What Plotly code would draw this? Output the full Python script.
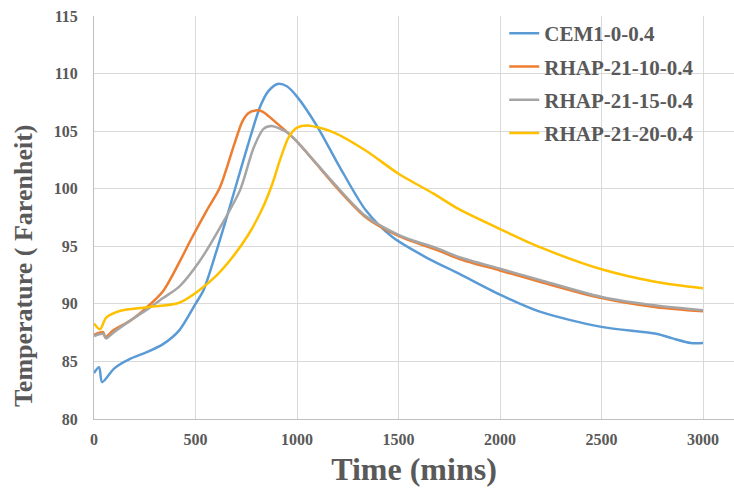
import plotly.graph_objects as go

# Time axis samples (minutes) and temperatures (°F) for each mix
cem_time = [0, 25, 40, 100, 175, 260, 340, 420, 500, 540, 600, 650, 700, 760, 820, 860,
            905, 950, 1000, 1100, 1210, 1340, 1470, 1640, 1800, 2000, 2200, 2500, 2770,
            2850, 2940, 3000]
cem_temp = [84.0, 84.5, 83.2, 84.4, 85.2, 85.8, 86.5, 87.7, 90.0, 91.2, 94.4, 97.3, 100.3,
            103.9, 107.2, 108.5, 109.1, 108.9, 108.0, 105.4, 101.9, 98.1, 95.8, 94.0, 92.6,
            90.8, 89.3, 88.0, 87.4, 87.0, 86.6, 86.6]

r10_time = [0, 45, 55, 95, 175, 260, 340, 420, 475, 555, 620, 690, 730, 760, 795, 830, 880,
            1000, 1180, 1340, 1500, 1700, 1800, 2000, 2200, 2500, 2770, 3000]
r10_temp = [87.3, 87.55, 87.1, 87.7, 88.5, 89.7, 91.1, 93.6, 95.5, 98.1, 100.1, 103.8,
            105.8, 106.55, 106.8, 106.7, 106.0, 104.1, 100.4, 97.5, 95.9, 94.6, 93.9, 92.9,
            91.9, 90.5, 89.7, 89.35]

r15_time = [0, 45, 60, 95, 175, 260, 340, 420, 520, 620, 720, 785, 835, 875, 950, 1000,
            1180, 1340, 1500, 1700, 1800, 2000, 2200, 2500, 2770, 3000]
r15_temp = [87.2, 87.4, 87.0, 87.5, 88.5, 89.5, 90.5, 91.5, 93.7, 96.6, 99.9, 103.5, 105.2,
            105.45, 104.9, 104.1, 100.5, 97.6, 96.0, 94.75, 94.05, 93.05, 92.05, 90.6, 89.85,
            89.45]

r20_time = [0, 30, 60, 130, 260, 420, 520, 600, 680, 760, 830, 880, 920, 960, 1000, 1050,
            1180, 1340, 1500, 1670, 1800, 2000, 2200, 2500, 2770, 3000]
r20_temp = [88.3, 87.8, 88.8, 89.4, 89.7, 90.1, 91.2, 92.4, 94.0, 96.0, 98.3, 100.5,
            102.7, 104.5, 105.3, 105.5, 104.9, 103.3, 101.3, 99.6, 98.2, 96.5, 94.9, 93.0,
            91.9, 91.35]

series_names = ["CEM1-0-0.4", "RHAP-21-10-0.4", "RHAP-21-15-0.4", "RHAP-21-20-0.4"]
series_colors = ["#5B9BD5", "#ED7D31", "#A5A5A5", "#FFC000"]
series_data = [(cem_time, cem_temp), (r10_time, r10_temp),
               (r15_time, r15_temp), (r20_time, r20_temp)]

x_ticks = [0, 500, 1000, 1500, 2000, 2500, 3000]
y_ticks = [80, 85, 90, 95, 100, 105, 110, 115]

text_color = "#595959"
serif = "Liberation Serif, Times New Roman, serif"

fig = go.Figure()
for name, color, (t, v) in zip(series_names, series_colors, series_data):
    fig.add_trace(go.Scatter(
        x=t, y=v, mode="lines", name=name, legendgroup=name,
        line=dict(color=color, width=2.5, shape="spline", smoothing=0.8),
    ))

fig.update_layout(
    width=734, height=491,
    margin=dict(l=94, r=0, t=16, b=72),
    paper_bgcolor="white", plot_bgcolor="white",
    font=dict(family=serif, color=text_color),
    showlegend=True,
    legend=dict(
        x=0.641, y=1.0075, xanchor="left", yanchor="top",
        bgcolor="rgba(0,0,0,0)", borderwidth=0,
        font=dict(family=serif, size=21, color=text_color, weight="bold"),
        tracegroupgap=3,
    ),
    annotations=[dict(
        text="Temperature ( Farenheit)", textangle=-90,
        xref="paper", yref="paper", x=-0.109, y=0.38,
        xanchor="center", yanchor="middle", showarrow=False,
        font=dict(family=serif, size=26, color=text_color, weight="bold"),
    )],
)

fig.update_xaxes(
    range=[0, 3000 * 640 / 609], tickvals=x_ticks,
    showgrid=True, gridcolor="#d9d9d9", gridwidth=1,
    showline=True, linecolor="#bfbfbf", linewidth=1, zeroline=False,
    ticks="", ticklabelstandoff=6,
    tickfont=dict(family=serif, size=16, color=text_color, weight="bold"),
    title=dict(text="Time (mins)", standoff=10,
               font=dict(family=serif, size=32, color=text_color, weight="bold")),
)
fig.update_yaxes(
    range=[80, 115], tickvals=y_ticks,
    showgrid=True, gridcolor="#d9d9d9", gridwidth=1,
    showline=True, linecolor="#bfbfbf", linewidth=1, zeroline=False,
    ticks="", ticklabelstandoff=12,
    tickfont=dict(family=serif, size=16, color=text_color, weight="bold"),
)

fig.write_html("out.html")
